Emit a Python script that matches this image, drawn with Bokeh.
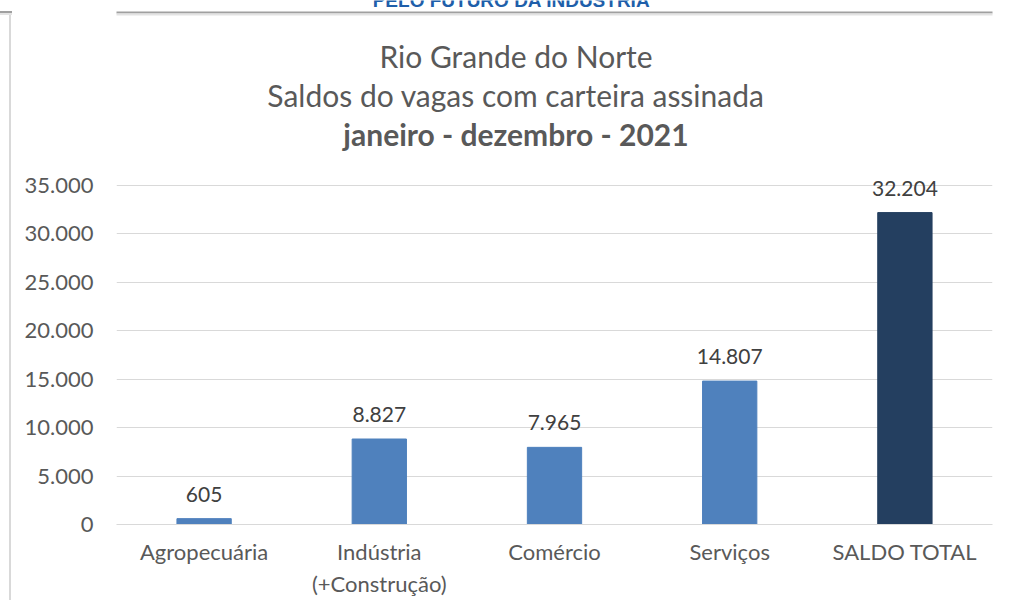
from bokeh.plotting import figure
from bokeh.layouts import row
from bokeh.models import (ColumnDataSource, FactorRange, FixedTicker, LabelSet,
                          Range1d, BoxAnnotation, Label, Div)
from bokeh.core.properties import value
from bokeh.embed import file_html
from bokeh.resources import INLINE

# ---- data ----
categories = ["Agropecuária", "Indústria\n(+Construção)", "Comércio", "Serviços", "SALDO TOTAL"]
values = [605, 8827, 7965, 14807, 32204]
bar_colors = ["#4F81BD", "#4F81BD", "#4F81BD", "#4F81BD", "#243F60"]
y_ticks = [0, 5000, 10000, 15000, 20000, 25000, 30000, 35000]
y_tick_labels = ["0", "5.000", "10.000", "15.000", "20.000", "25.000", "30.000", "35.000"]
title_lines = ["Rio Grande do Norte", "Saldos do vagas com carteira assinada", "janeiro - dezembro - 2021"]
header_text = "PELO FUTURO DA INDÚSTRIA"

value_labels = [f"{v:,}".replace(",", ".") for v in values]

FONT = "Lato"
TXT = "#595959"

# layout (pixels): plot frame spans from the top of the canvas down to the x axis,
# so that titles drawn in frame-relative screen units are not clipped
FRAME_H = 524          # frame height in px
AXIS_TOP_PX = 339      # px from x axis up to the 35.000 gridline
y_end = y_ticks[-1] * FRAME_H / AXIS_TOP_PX
LEFT_W = 12

# narrow strip on the left holding the document border (pure CSS)
strip = Div(text="", width=LEFT_W, height=600, margin=0, styles={
    "background-color": "white",
    "background-image": ("linear-gradient(#A0A0A0, #A0A0A0), "
                         "linear-gradient(#E3E3E3, #E3E3E3), "
                         "linear-gradient(#D9D9D9, #D9D9D9)"),
    "background-size": "100% 2px, 100% 2px, 2px 586px",
    "background-position": "0px 11px, 0px 13px, 9px 14px",
    "background-repeat": "no-repeat",
})

source = ColumnDataSource(dict(cat=categories, val=values, color=bar_colors, lab=value_labels))

p = figure(x_range=FactorRange(*categories), y_range=Range1d(0, y_end),
           width=1000 - LEFT_W, height=600, output_backend="svg", toolbar_location=None,
           title=None, min_border_left=116 - LEFT_W, min_border_right=8,
           min_border_top=0, min_border_bottom=76)

p.vbar(x="cat", top="val", width=0.31, color="color", source=source)

labels = LabelSet(x="cat", y="val", text="lab", source=source, text_align="center",
                  text_baseline="bottom", y_offset=17, text_font=value(FONT),
                  text_font_size="21px", text_color="#404040")
p.add_layout(labels)

# titles (screen units are relative to the frame, y measured up from the x axis)
title_y = [469, 430, 391]
title_style = ["normal", "normal", "bold"]
for txt, ty, st in zip(title_lines, title_y, title_style):
    p.add_layout(Label(x=399.5, y=ty, x_units="screen", y_units="screen", text=txt,
                       text_align="center", text_baseline="alphabetic", text_font=FONT,
                       text_font_style=st, text_font_size="30px", text_color=TXT))

# document top rule and cut-off page header
p.add_layout(BoxAnnotation(left=-200, right=1000, bottom=511, top=513,
                           left_units="screen", right_units="screen",
                           bottom_units="screen", top_units="screen",
                           fill_color="#A0A0A0", fill_alpha=1, line_color=None))
p.add_layout(BoxAnnotation(left=-200, right=1000, bottom=509, top=511,
                           left_units="screen", right_units="screen",
                           bottom_units="screen", top_units="screen",
                           fill_color="#E3E3E3", fill_alpha=1, line_color=None))
p.add_layout(Label(x=395, y=524, x_units="screen", y_units="screen", text=header_text,
                   text_align="center", text_baseline="alphabetic", text_font="Liberation Sans",
                   text_font_style="bold", text_font_size="19px", text_color="#1F5FAA"))

# axes
p.yaxis.ticker = FixedTicker(ticks=y_ticks)
p.yaxis.major_label_overrides = {t: l for t, l in zip(y_ticks, y_tick_labels)}
p.yaxis.axis_line_color = None
p.yaxis.major_tick_line_color = None
p.yaxis.minor_tick_line_color = None
p.yaxis.major_tick_out = 0
p.yaxis.major_label_standoff = 23
p.yaxis.major_label_text_font = FONT
p.yaxis.major_label_text_font_size = "22px"
p.yaxis.major_label_text_color = TXT

p.xaxis.axis_line_color = "#D9D9D9"
p.xaxis.axis_line_width = 1
p.xaxis.major_tick_line_color = None
p.xaxis.minor_tick_line_color = None
p.xaxis.major_tick_out = 0
p.xaxis.major_label_standoff = 13
p.xaxis.major_label_text_font = FONT
p.xaxis.major_label_text_font_size = "22px"
p.xaxis.major_label_text_color = TXT

p.xgrid.grid_line_color = None
p.ygrid.grid_line_color = "#D9D9D9"
p.ygrid.grid_line_width = 1

p.outline_line_color = None
p.background_fill_color = "white"
p.border_fill_color = "white"

layout = row(strip, p, spacing=0)
open("out.html", "w").write(file_html(layout, INLINE))
